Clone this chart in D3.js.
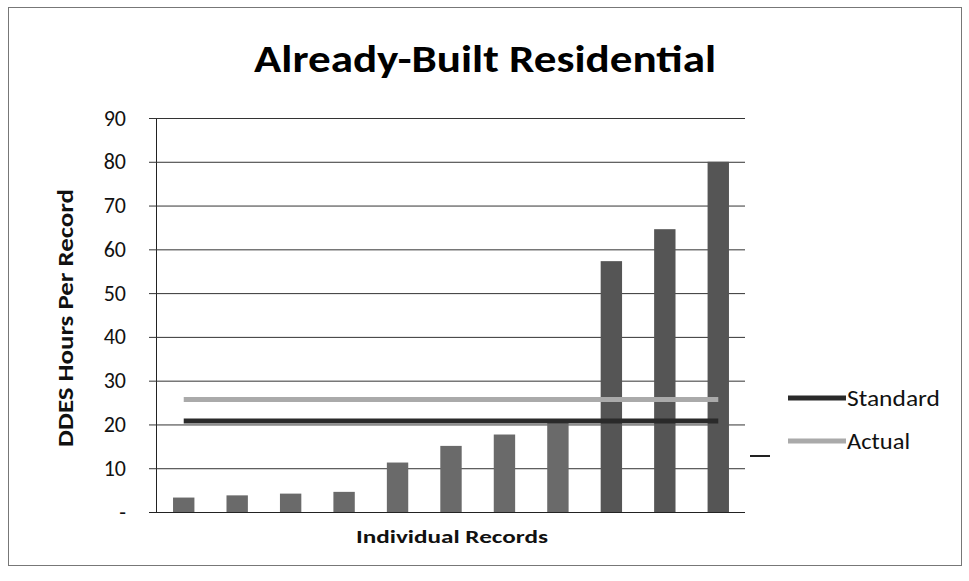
<!DOCTYPE html>
<html><head><meta charset="utf-8">
<script src="https://cdn.jsdelivr.net/npm/d3@7"></script>
<style>body{margin:0;background:#fff}svg{display:block}</style>
</head><body>
<svg id="c" width="969" height="581"></svg>
<script>
const records = ["1","2","3","4","5","6","7","8","9","10","11"];
const hours = [3.3, 3.8, 4.2, 4.6, 11.3, 15.1, 17.7, 20.3, 57.3, 64.6, 80];
const standardValue = 20.8;
const actualValue = 25.7;
const yTicks = [0,10,20,30,40,50,60,70,80,90];
const yTickLabels = ["-","10","20","30","40","50","60","70","80","90"];
const legendItems = ["Standard","Actual"];

(function(){
const svg = d3.select("#c");
const font = "Calibri, Carlito, Lato, 'Open Sans', sans-serif";
const pLeft = 156, pRight = 745, pTop = 118, pBottom = 512;
const legendTextWidths = [93, 63];

// frame
svg.append("rect").attr("x",8.5).attr("y",7.5).attr("width",953).attr("height",558)
  .attr("fill","none").attr("stroke","#777").attr("stroke-width",1);

const x = d3.scaleBand().domain(records).range([pLeft+1, pRight]).paddingInner(0.6).paddingOuter(0.3);
const y = d3.scaleLinear().domain([0,90]).range([pBottom, pTop]);

// gridlines + y axis
const yAxis = d3.axisLeft(y).tickValues(yTicks)
  .tickFormat((d,i)=>yTickLabels[i]).tickSize(-(pRight-pLeft)).tickPadding(30);
const ga = svg.append("g").attr("transform",`translate(${pLeft},0)`).call(yAxis);
ga.select(".domain").attr("stroke","#222");
ga.selectAll(".tick line").attr("stroke","#333").attr("stroke-width",1);
ga.selectAll(".tick").append("line").attr("x1",-7).attr("x2",0).attr("stroke","#333");
ga.selectAll(".tick text").attr("font-family",font).attr("font-size",22).attr("fill","#111");

// bars
svg.append("g").selectAll("rect").data(hours).join("rect")
  .attr("x",(d,i)=>x(records[i])).attr("width",x.bandwidth())
  .attr("y",d=>y(d)).attr("height",d=>pBottom-y(d))
  .attr("fill",(d,i)=> i>=8 ? "#555" : "#6a6a6a");

// baseline on top
svg.append("line").attr("x1",pLeft-7).attr("x2",pRight).attr("y1",pBottom+0.5).attr("y2",pBottom+0.5)
  .attr("stroke","#222");

// horizontal series lines
const xc = r => x(r) + x.bandwidth()/2;
const lineGen = d3.line().x(d=>xc(d[0])).y(d=>y(d[1]));
svg.append("path").datum(records.map(r=>[r,actualValue])).attr("d",lineGen)
  .attr("stroke","#aaa").attr("stroke-width",5).attr("fill","none");
svg.append("path").datum(records.map(r=>[r,standardValue])).attr("d",lineGen)
  .attr("stroke","#2a2a2a").attr("stroke-width",5).attr("fill","none");

// title
svg.append("text").attr("x",485).attr("y",72).attr("text-anchor","middle")
  .attr("font-family",font).attr("font-weight","bold").attr("font-size",39)
  .attr("textLength",462).attr("lengthAdjust","spacingAndGlyphs").attr("fill","#000")
  .text("Already-Built Residential");

// axis titles
svg.append("text").attr("transform","translate(73,318) rotate(-90)").attr("text-anchor","middle")
  .attr("font-family",font).attr("font-weight","bold").attr("font-size",22)
  .attr("textLength",258).attr("lengthAdjust","spacingAndGlyphs").attr("fill","#111")
  .text("DDES Hours Per Record");
svg.append("text").attr("x",452).attr("y",543).attr("text-anchor","middle")
  .attr("font-family",font).attr("font-weight","bold").attr("font-size",19)
  .attr("textLength",192).attr("lengthAdjust","spacingAndGlyphs").attr("fill","#111")
  .text("Individual Records");

// legend
const lg = svg.append("g").selectAll("g").data(legendItems).join("g")
  .attr("transform",(d,i)=>`translate(788,${398+i*43})`);
lg.append("line").attr("x1",0).attr("x2",58).attr("stroke-width",5)
  .attr("stroke",(d,i)=> i===0 ? "#2a2a2a" : "#aaa");
lg.append("text").attr("x",59).attr("y",8).attr("font-family",font).attr("font-size",22)
  .attr("textLength",(d,i)=>legendTextWidths[i]).attr("lengthAdjust","spacingAndGlyphs")
  .attr("fill","#111").text(d=>d);

// stray mark from scan
svg.append("line").attr("x1",750).attr("x2",770).attr("y1",456).attr("y2",456)
  .attr("stroke","#222").attr("stroke-width",2);
})();
</script>
</body></html>
